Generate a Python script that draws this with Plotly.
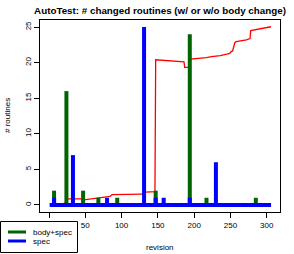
import plotly.graph_objects as go

# ---- data ----
first_rev = 1
last_rev = 306

body_spec_rev = [7, 24, 47, 68, 94, 147, 194, 217, 285]
body_spec_val = [2, 16, 2, 1, 1, 2, 24, 1, 1]

spec_rev = [7, 33, 80, 131, 147, 158, 194, 230]
spec_val = [1, 7, 1, 25, 1, 1, 1, 6]

ratio_rev = [1, 19, 21, 24, 26, 46, 48, 66, 84, 87, 128, 133, 145, 146, 147, 186,
             187, 194, 195, 205, 217, 224, 234, 236, 245, 249, 251, 253, 256, 258,
             272, 277, 278, 288, 297, 306]
ratio_val = [0.05, 0.1, 0.25, 0.3, 0.85, 0.85, 0.7, 0.95, 1.2, 1.45, 1.5, 1.8, 1.85, 1.85, 20.4, 20.1,
             19.35, 19.35, 20.5, 20.55, 20.7, 20.85, 20.95, 21.0, 21.2, 21.3, 21.55, 21.65, 22.8, 22.95,
             23.2, 23.4, 24.5, 24.7, 24.85, 25.05]

x_ticks = [0, 50, 100, 150, 200, 250, 300]
x_tick_labels = ["", "50", "100", "150", "200", "250", "300"]  # "0" hidden under legend
y_ticks = [0, 5, 10, 15, 20, 25]

legend_labels = ["body+spec", "spec"]
legend_colors = ["#006400", "#0000ff"]


def spikes(revs, vals, base=None):
    xs, ys = [], []
    if base is not None:
        xs += [base[0], base[1], None]
        ys += [0, 0, None]
    for r, v in zip(revs, vals):
        xs += [r, r, None]
        ys += [0, v, None]
    return xs, ys


FONT = "Liberation Sans, Arial, Helvetica, sans-serif"

# plot box in pixels
L, R, T, B, W, H = 40, 280, 20, 212, 294, 254


def px(xp):
    return (xp - L) / (R - L)


def py(yp):
    return (B - yp) / (B - T)


fig = go.Figure()

fig.add_trace(go.Scatter(x=ratio_rev, y=ratio_val, mode="lines",
                         line=dict(color="#ff0000", width=1.3), showlegend=False,
                         hoverinfo="skip"))

gx, gy = spikes(body_spec_rev, body_spec_val)
fig.add_trace(go.Scatter(x=gx, y=gy, mode="lines", name=legend_labels[0],
                         line=dict(color=legend_colors[0], width=4), showlegend=False))

bx, by = spikes(spec_rev, spec_val, base=(first_rev, last_rev))
fig.add_trace(go.Scatter(x=bx, y=by, mode="lines", name=legend_labels[1],
                         line=dict(color=legend_colors[1], width=4), showlegend=False))

shapes = [dict(type="rect", xref="paper", yref="paper",
               x0=px(0.5), x1=px(77.5), y0=py(252.5), y1=py(221.5),
               line=dict(color="black", width=1), fillcolor="white", layer="above")]
annotations = [
    dict(text="revision", x=0.5, y=py(247), xref="paper", yref="paper",
         xanchor="center", yanchor="middle", showarrow=False,
         font=dict(size=8, family=FONT)),
    dict(text="# routines", x=px(7), y=0.5, xref="paper", yref="paper",
         xanchor="center", yanchor="middle", showarrow=False, textangle=-90,
         font=dict(size=8, family=FONT)),
]
for i, (lab, col) in enumerate(zip(legend_labels, legend_colors)):
    yy = 232 + 9 * i
    shapes.append(dict(type="line", xref="paper", yref="paper",
                       x0=px(8), x1=px(26), y0=py(yy), y1=py(yy),
                       line=dict(color=col, width=3), layer="above"))
    annotations.append(dict(text=lab, x=px(31), y=py(yy), xref="paper", yref="paper",
                            xanchor="left", yanchor="middle", showarrow=False,
                            font=dict(size=8, family=FONT)))

fig.update_layout(
    width=W, height=H,
    margin=dict(l=L, r=W - R, t=T, b=H - B, autoexpand=False),
    paper_bgcolor="white", plot_bgcolor="white",
    font=dict(family=FONT, size=8, color="black"),
    title=dict(text="<b>AutoTest: # changed routines (w/ or w/o body change)</b>",
               x=0.5, xanchor="center", xref="paper", y=1 - 11 / H, yanchor="middle",
               font=dict(size=9.8, family=FONT, color="black")),
    showlegend=False,
    xaxis=dict(range=[-12.4, 318.3], tickvals=x_ticks, ticktext=x_tick_labels,
               ticks="outside", ticklen=5,
               tickcolor="black", showline=True, mirror=True, linecolor="black",
               linewidth=1, showgrid=False, zeroline=False, automargin=False,
               tickfont=dict(size=8, family=FONT)),
    yaxis=dict(range=[-1, 26], tickvals=y_ticks, ticks="outside", ticklen=5,
               tickcolor="black", showline=True, mirror=True, linecolor="black",
               linewidth=1, showgrid=False, zeroline=False, tickangle=-90,
               automargin=False, tickfont=dict(size=8, family=FONT)),
    shapes=shapes,
    annotations=annotations,
)

fig.write_html("out.html", config={"displayModeBar": False},
               post_script="document.body.style.margin='0';")
